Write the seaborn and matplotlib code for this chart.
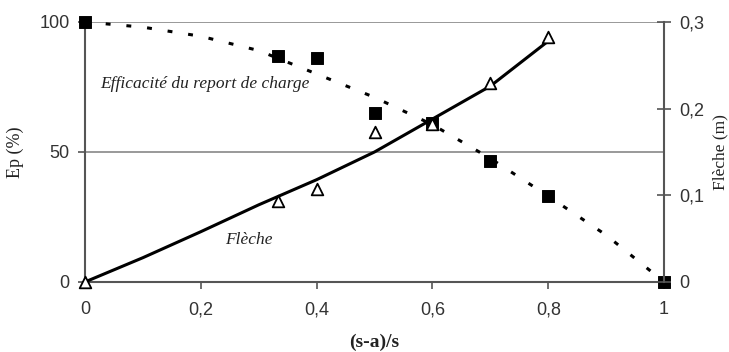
import matplotlib
matplotlib.use("Agg")
import matplotlib.pyplot as plt
import seaborn as sns
import pandas as pd
from matplotlib.ticker import FuncFormatter

# measured points
x_ep = [0, 0.333, 0.4, 0.5, 0.6, 0.7, 0.8, 1.0]
ep_pts = [100, 87, 86, 65, 61, 46.5, 33, 0]
x_fl = [0, 0.333, 0.4, 0.5, 0.6, 0.7, 0.8]
fl_pts = [0, 0.093, 0.107, 0.173, 0.182, 0.230, 0.283]

# fitted curves
x_ep_fit = [0, 0.1, 0.2, 0.3, 0.4, 0.5, 0.6, 0.7, 0.8, 0.9, 1.0]
ep_fit = [100, 98, 94.5, 89, 80, 71, 60.5, 47.5, 33, 18, 0]
x_fl_fit = [0, 0.1, 0.2, 0.3, 0.4, 0.5, 0.6, 0.7, 0.8]
fl_fit = [0, 0.028, 0.058, 0.089, 0.118, 0.150, 0.188, 0.226, 0.278]

sns.set_style("white")
plt.rcParams['font.family'] = ['Liberation Sans', 'DejaVu Sans']

fig = plt.figure(figsize=(7.29, 3.52), dpi=100)
ax = fig.add_axes([0.1166, 0.199, 0.7944, 0.7386])
ax2 = ax.twinx()

spine_col = "#555555"
grid_col = "#888888"

ax.axhline(50, color=grid_col, lw=1.2, zorder=0)
ax.axhline(100, color=grid_col, lw=1.2, zorder=0)

sns.lineplot(x=x_ep_fit, y=ep_fit, ax=ax, color="black", lw=2.2,
             linestyle=(0, (1.6, 5.2)), zorder=3)
sns.scatterplot(x=x_ep, y=ep_pts, ax=ax, marker="s", s=70, color="black",
                edgecolor="black", zorder=4, clip_on=False)

sns.lineplot(x=x_fl_fit, y=fl_fit, ax=ax2, color="black", lw=2.2, zorder=3)
sns.scatterplot(x=x_fl, y=fl_pts, ax=ax2, marker="^", s=70, facecolor="white",
                edgecolor="black", linewidth=1.3, zorder=4, clip_on=False)

ax.set_xlim(0, 1)
ax.set_ylim(0, 100)
ax2.set_ylim(0, 0.3)
ax.set_xticks([0, 0.2, 0.4, 0.6, 0.8, 1.0])
ax.set_yticks([0, 50, 100])
ax2.set_yticks([0, 0.1, 0.2, 0.3])

comma = FuncFormatter(lambda v, p: ("%g" % round(v, 2)).replace(".", ","))
ax.xaxis.set_major_formatter(comma)
ax2.yaxis.set_major_formatter(comma)

for a in (ax, ax2):
    for s in a.spines.values():
        s.set_visible(False)
ax.spines['left'].set_visible(True)
ax.spines['bottom'].set_visible(True)
ax2.spines['right'].set_visible(True)
for s in (ax.spines['left'], ax.spines['bottom'], ax2.spines['right']):
    s.set_color(spine_col)
    s.set_linewidth(1.5)

ax.tick_params(axis='both', direction='out', length=5, width=1.2, color=spine_col,
               labelsize=13, labelcolor="#333333", pad=6)
ax.tick_params(axis='x', pad=9)
ax2.tick_params(axis='y', direction='inout', length=10, width=1.2, color=spine_col,
                labelsize=13, labelcolor="#333333", pad=6)
ax.tick_params(axis='x', which='both', bottom=True)
ax.tick_params(axis='y', which='both', left=True)
ax2.tick_params(axis='y', which='both', right=True)

serif = ['Liberation Serif', 'DejaVu Serif']
ax.set_ylabel("Ep (%)", family=serif, fontsize=13, color="#222222", labelpad=11)
ax2.set_ylabel("Flèche (m)", family=serif, fontsize=12.5, color="#222222", labelpad=6)
ax.set_xlabel("(s-a)/s", family=serif, fontsize=14, fontweight="bold",
              color="#222222", labelpad=11)

ax.text(0.026, 76, "Efficacité du report de charge", family=serif, style="italic",
        fontsize=12.5, color="#222222", va="center")
ax.text(0.242, 16, "Flèche", family=serif, style="italic", fontsize=12.5,
        color="#222222", va="center")

fig.savefig("out.png", dpi=100)
